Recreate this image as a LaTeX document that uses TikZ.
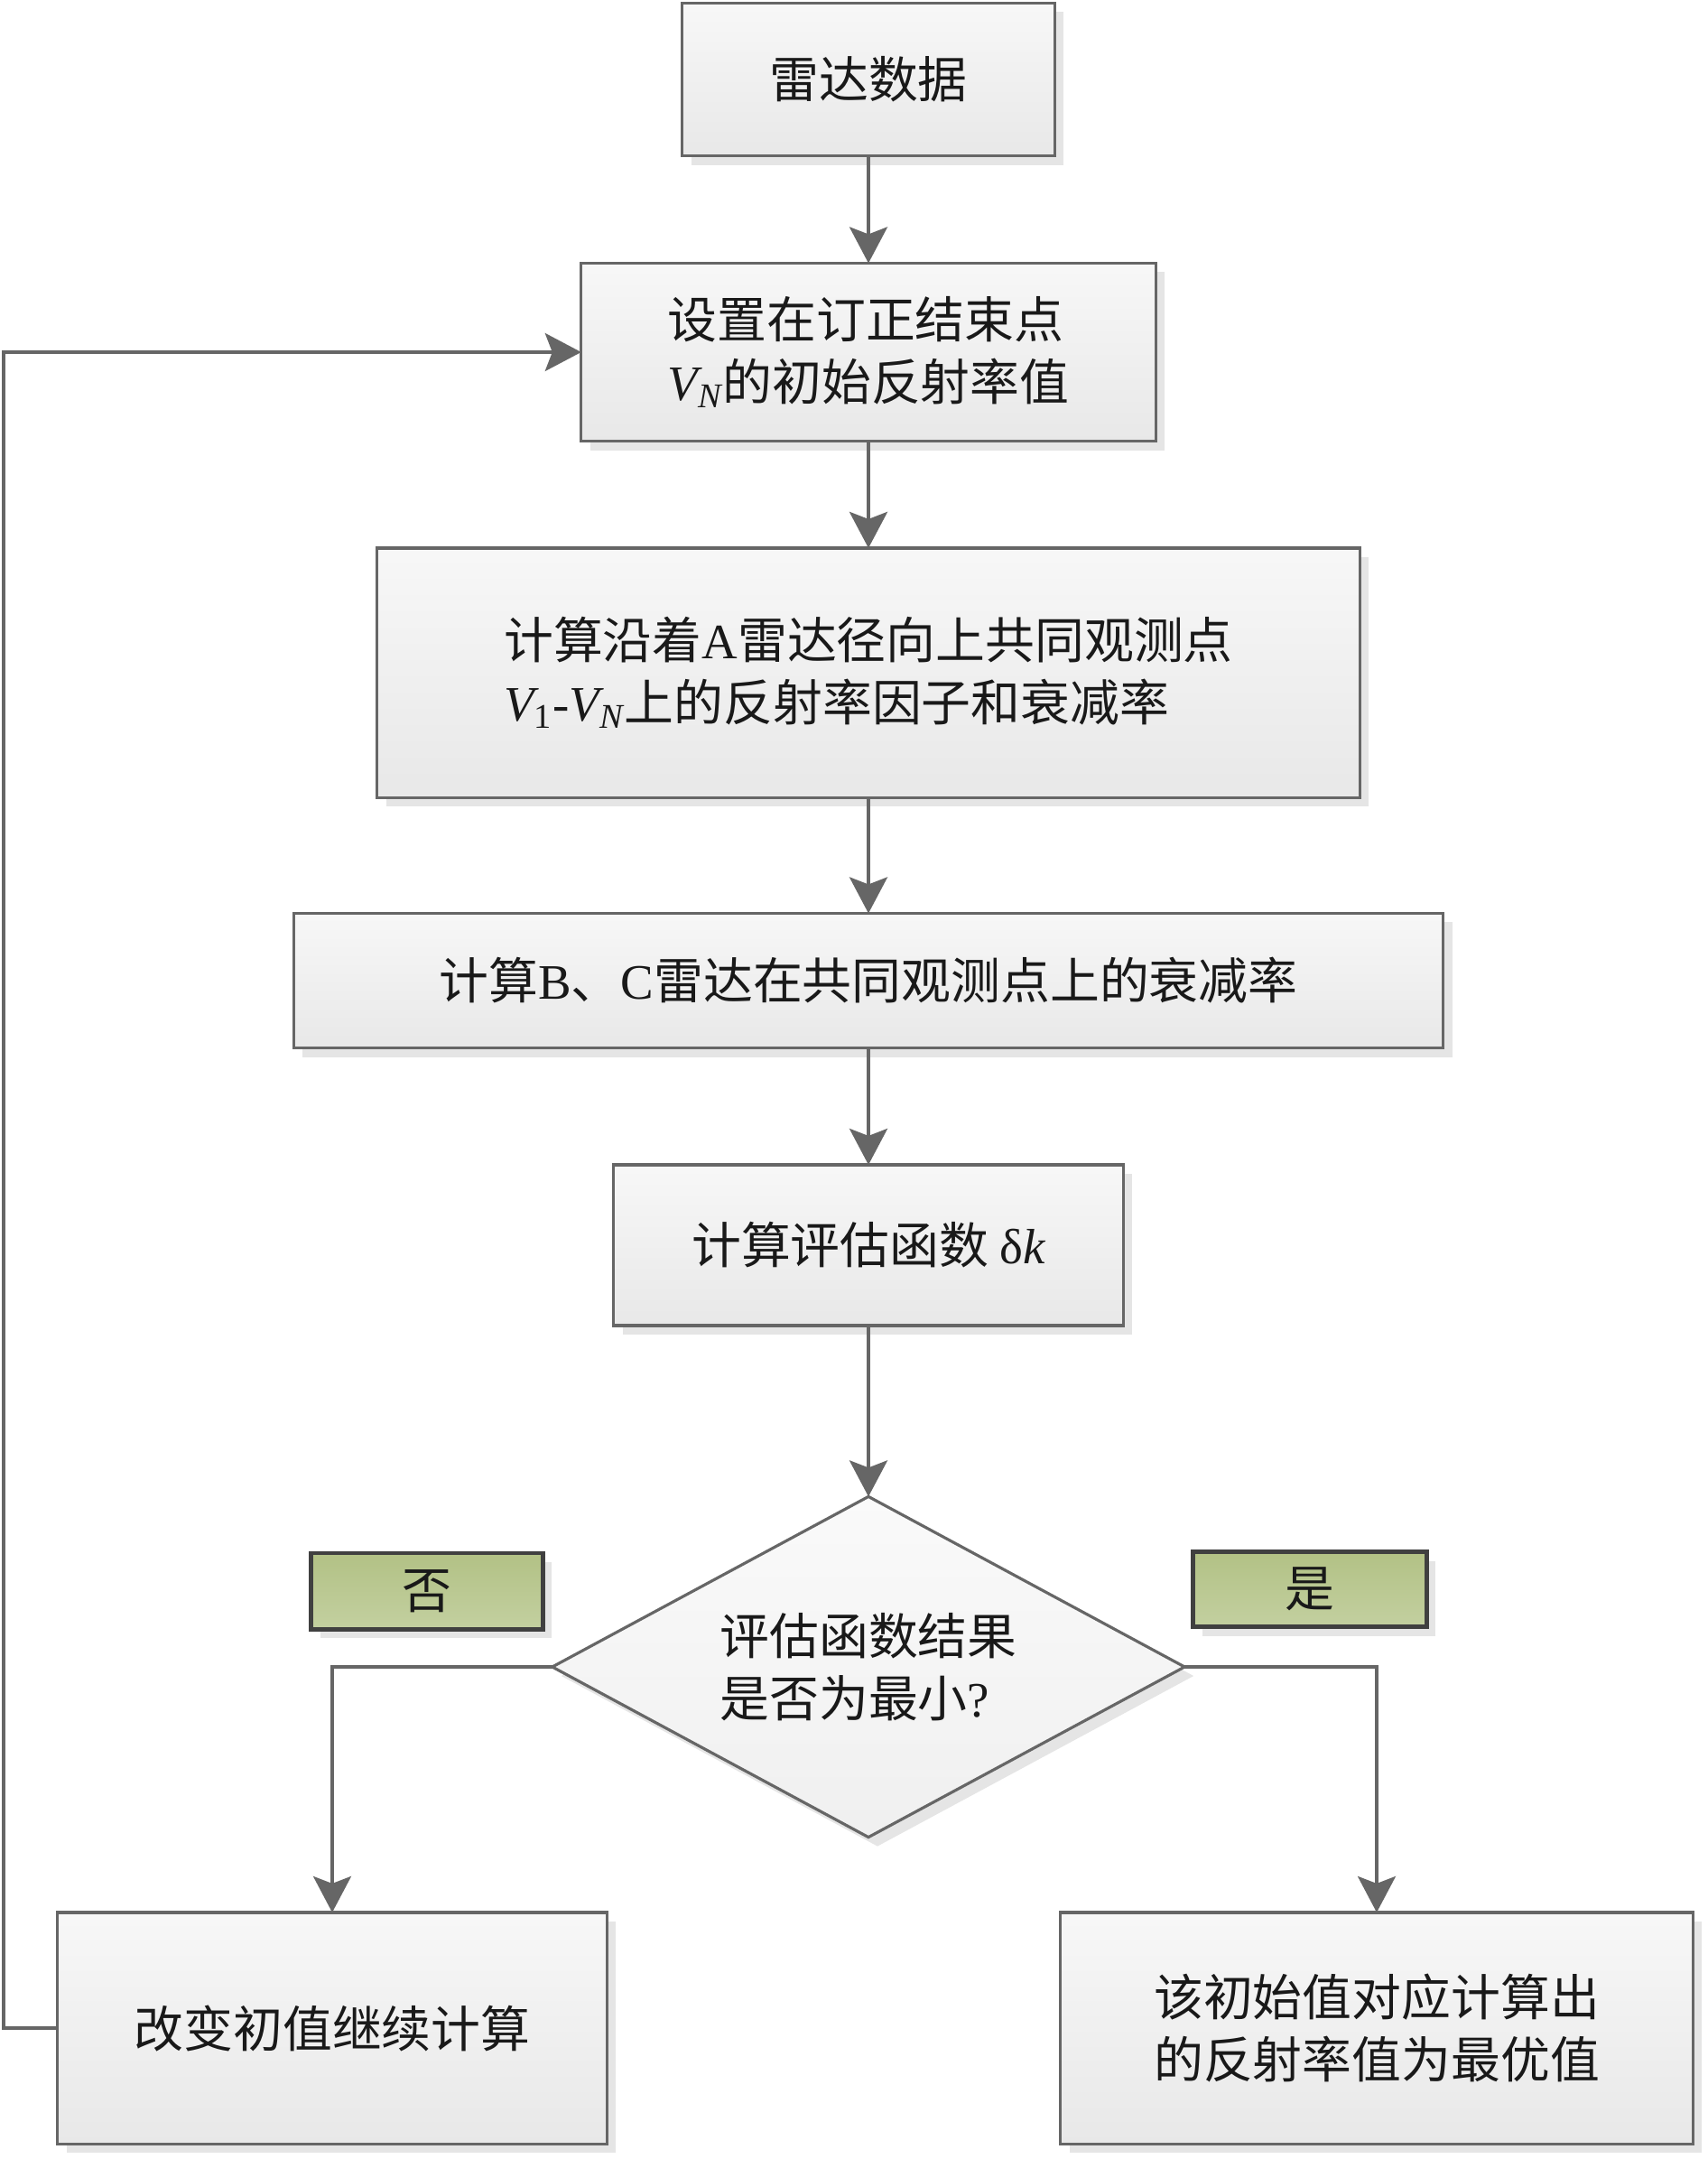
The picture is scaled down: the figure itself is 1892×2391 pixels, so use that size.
\documentclass[tikz,border=0pt]{standalone}
\usepackage{fontspec}
\setmainfont{Noto Sans CJK SC}
\newfontfamily\latin{Liberation Serif}
\usepackage{tikz}
\usetikzlibrary{arrows.meta,shapes.geometric,shadows}

\definecolor{linegray}{HTML}{666666}
\definecolor{greentop}{HTML}{B2C185}
\definecolor{greenbot}{HTML}{C3D0A0}

\tikzset{
    flowbox/.style={rectangle, draw=linegray, line width=0.9pt,
        top color=white!97!black, bottom color=black!9,
        drop shadow={shadow xshift=0.1cm, shadow yshift=-0.1cm, fill=black!10, opacity=1},
        inner sep=0pt, outer sep=0pt, text=black!90,
        font=\fontsize{15.6}{19.5}\selectfont},
    decbox/.style={flowbox, diamond, shape aspect=1.86, top color=white!98!black, bottom color=black!6},
    tagbox/.style={flowbox, draw=black!75, line width=1.4pt,
        top color=greentop, bottom color=greenbot},
    flowarrow/.style={draw=linegray, line width=1.1pt,
        -{Stealth[length=0.4cm,width=0.42cm,inset=0.08cm]}}
}
\newcommand{\Vn}[1]{{\latin\itshape V\textsubscript{#1}}}

\begin{document}
\begin{tikzpicture}[x=0.01cm, y=-0.01cm]
    \useasboundingbox (0,0) rectangle (1892,2391);

    \node[flowbox, minimum width=4.12cm, minimum height=1.69cm] (radar) at (962,88) {雷达数据};
    \node[flowbox, minimum width=6.36cm, minimum height=1.97cm, align=left] (setv) at (962,390)
        {设置在订正结束点\\\Vn{N}的初始反射率值};
    \node[flowbox, minimum width=10.88cm, minimum height=2.76cm, align=left] (calcA) at (962,745)
        {计算沿着{\latin A}雷达径向上共同观测点\\\Vn{\upshape 1}{\latin -}\Vn{N}上的反射率因子和衰减率};
    \node[flowbox, minimum width=12.73cm, minimum height=1.49cm] (calcBC) at (962,1086)
        {计算{\latin B}、{\latin C}雷达在共同观测点上的衰减率};
    \node[flowbox, minimum width=5.64cm, minimum height=1.78cm] (evalf) at (962,1379)
        {计算评估函数 {\latin δ\itshape k}};
    \node[decbox, minimum width=7cm, minimum height=3.77cm, align=left] (dec) at (962,1846)
        {评估函数结果\\是否为最小{\latin ?}};
    \node[tagbox, minimum width=2.56cm, minimum height=0.84cm] (no) at (473,1762) {否};
    \node[tagbox, minimum width=2.58cm, minimum height=0.83cm] (yes) at (1451,1760) {是};
    \node[flowbox, minimum width=6.08cm, minimum height=2.56cm] (change) at (368,2246) {改变初值继续计算};
    \node[flowbox, minimum width=7cm, minimum height=2.56cm, align=left] (best) at (1525,2246)
        {该初始值对应计算出\\的反射率值为最优值};
    \coordinate (loop) at (4,2246);

    \draw[flowarrow] (radar) -- (setv);
    \draw[flowarrow] (setv) -- (calcA);
    \draw[flowarrow] (calcA) -- (calcBC);
    \draw[flowarrow] (calcBC) -- (evalf);
    \draw[flowarrow] (evalf) -- (dec);
    \draw[flowarrow, line width=0.9pt] (dec.west) -| (change);
    \draw[flowarrow, line width=0.9pt] (dec.east) -| (best);
    \draw[flowarrow, line width=0.9pt] (change.west) -- (loop) |- (setv.west);
\end{tikzpicture}
\end{document}
